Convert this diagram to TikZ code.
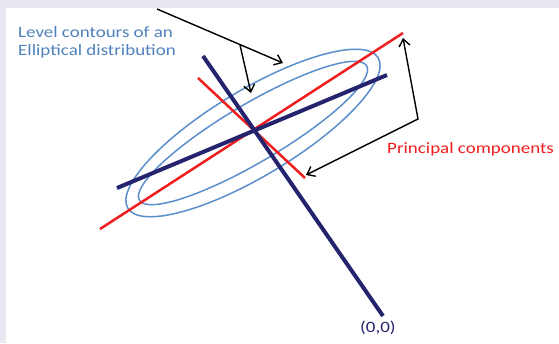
\documentclass[tikz,border=0pt]{standalone}
\usepackage{fontspec}
\setmainfont{Carlito}[FakeStretch=1.2]
\usetikzlibrary{arrows.meta}
\definecolor{pageback}{HTML}{E8E8F2}
\definecolor{contourblue}{HTML}{5B8FCB}
\definecolor{labelblue}{HTML}{4F81BD}
\definecolor{pcred}{HTML}{F01E1E}
\definecolor{axisnavy}{HTML}{24246E}
\tikzset{barb/.tip={Straight Barb[length=7bp, width=11bp]}}

\begin{document}
\begin{tikzpicture}[x=1bp, y=-1bp, font=\fontsize{15.8bp}{18bp}\selectfont,
  pointer/.style={draw=black, line width=1.4bp},
  contour/.style={draw=contourblue, line width=1.5bp},
  pcline/.style={draw=pcred, line width=2.5bp},
  axisline/.style={draw=axisnavy, line width=4bp}]
  \fill[pageback] (0,0) rectangle (559,343);
  \fill[white] (6,8) rectangle (559,343);
  \path[use as bounding box] (0,0) rectangle (559,343);
  \coordinate (centre) at (253,133);
  \foreach \a/\b/\t in {146/43/31, 132/29/30.6}{%
    \draw[contour, rotate around={\t:(centre)}] (centre) ellipse [x radius=\a, y radius=\b];}
  \coordinate (redA) at (100,229); \coordinate (redB) at (403,33);
  \coordinate (redC) at (198,78);  \coordinate (redD) at (305,178);
  \coordinate (navyA) at (203,56); \coordinate (navyB) at (383,316);
  \coordinate (navyC) at (117,188); \coordinate (navyD) at (387,75);
  \draw[pcline] (redA) -- (redB);
  \draw[pcline] (redC) -- (redD);
  \draw[axisline] (navyA) -- (navyB);
  \draw[axisline] (navyC) -- (navyD);
  \node[text=labelblue, anchor=base west, align=left, inner sep=0] (contours) at (18,55)
    {Level contours of an\\Elliptical distribution};
  \node[text=pcred, anchor=base west, inner sep=0] (pclabel) at (387,153) {Principal components};
  \node[text=axisnavy, anchor=base west, inner sep=0] (origin) at (360,332) {(0,0)};
  \coordinate (tail) at (157,9);   \coordinate (fork) at (240,45);
  \coordinate (outerhit) at (283,63); \coordinate (innerhit) at (251,93);
  \coordinate (elbow) at (418,119);
  \coordinate (shorthit) at (306,175); \coordinate (longhit) at (403,38);
  \draw[pointer, -barb] (tail) -- (outerhit);
  \draw[pointer, -barb] (fork) -- (innerhit);
  \draw[pointer, barb-barb] (shorthit) -- (elbow) -- (longhit);
\end{tikzpicture}
\end{document}
